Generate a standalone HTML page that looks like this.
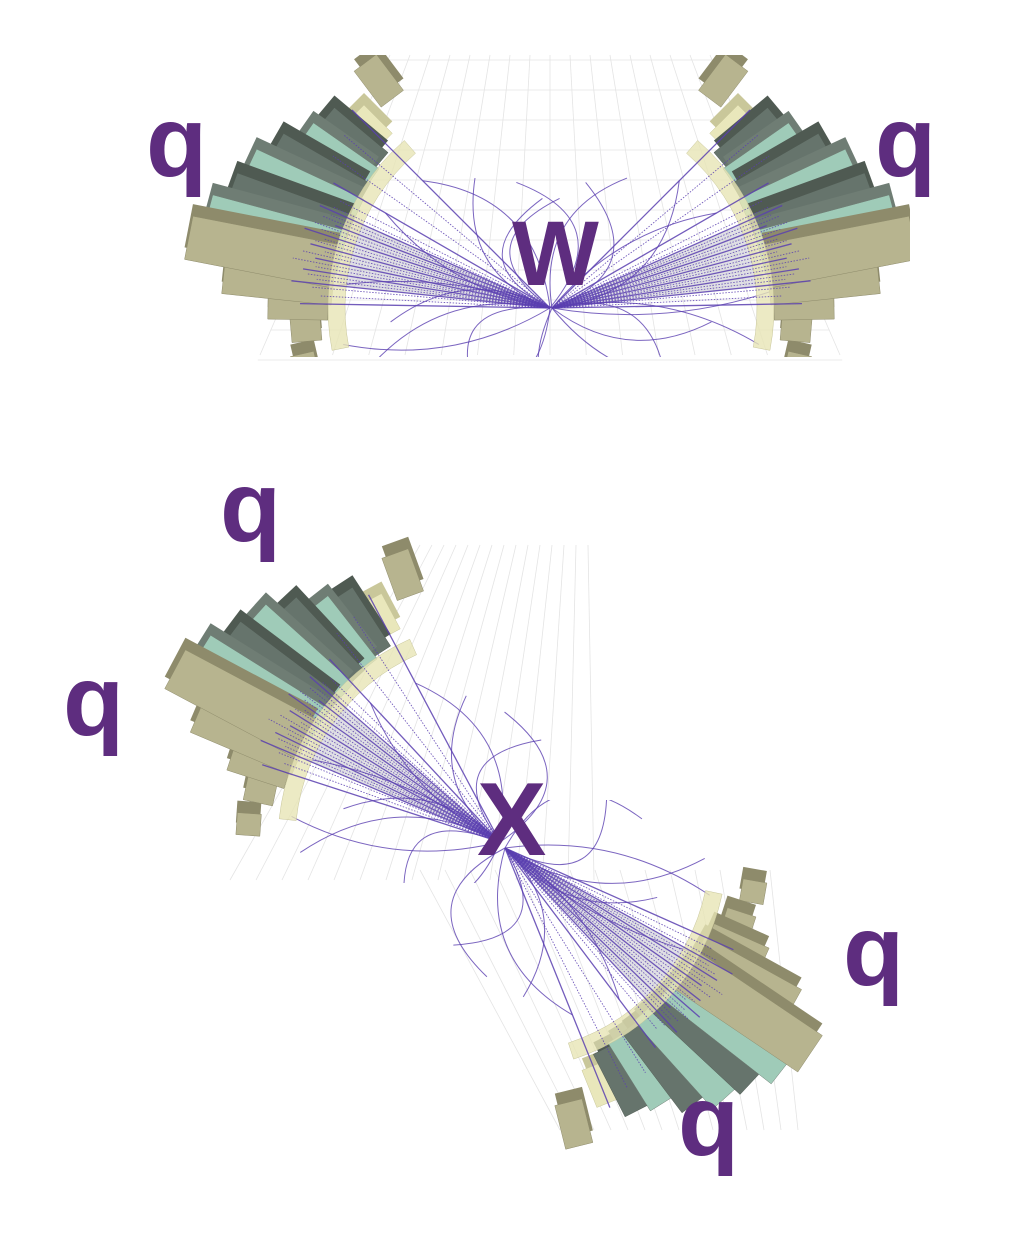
<!DOCTYPE html>
<html><head><meta charset="utf-8">
<style>
html,body{margin:0;padding:0;background:#fff;}
svg{display:block;}
.lbl{font-family:"Liberation Sans",sans-serif;font-weight:bold;fill:#5e2d7f;}
</style></head>
<body>
<svg id="s" width="1020" height="1234" viewBox="0 0 1020 1234">
<defs>
<clipPath id="clipTop"><rect x="150" y="55" width="760" height="302"/></clipPath>
<clipPath id="clipUL"><rect x="100" y="520" width="560" height="363"/></clipPath>
<clipPath id="clipLR"><rect x="340" y="800" width="520" height="360"/></clipPath>
</defs>
<g id="grid"></g>
<g id="jets"></g>
<text class="lbl" x="146" y="176" font-size="100">q</text>
<text class="lbl" x="875" y="176" font-size="100">q</text>
<text class="lbl" x="512" y="285" font-size="92">W</text>
<text class="lbl" x="220" y="541" font-size="100">q</text>
<text class="lbl" x="63" y="735" font-size="100">q</text>
<text class="lbl" x="477" y="855" font-size="104">X</text>
<text class="lbl" x="843" y="985" font-size="100">q</text>
<text class="lbl" x="678" y="1155" font-size="100">q</text>
</svg>
<script>
// tower offsets (deg), inner radius, length, half width, color index
const towerOff = [0,5,-4,-9,10,15,20,25,-14,-20,38,-28,30];
const towerR0  = [215,215,218,218,215,218,220,224,222,230,262,240,235];
const towerLen = [140,125,150,110,118,100,80,70,60,30,45,24,40];
const towerW   = [22,20,22,20,20,18,16,15,16,12,14,11,12];
const towerCol = [0,1,2,2,0,1,0,1,2,2,2,2,3];
const trackOff = [-14,-12,-10,-9,-8,-7,-6,-5,-4,-3,-2,-1,0,1,2,3,4,5,6,7,8,9,10,12,15,20,25,30];
const trackLen = [250,230,240,260,235,245,250,238,262,240,255,232,248,244,236,258,242,250,230,246,238,252,240,236,250,265,270,280];
const curveOff = [-35,-25,-20,-50,30,45,60,-70,80,-10,15];
const curveBend= [60,-40,50,-80,70,-60,90,100,-90,30,-35];
const curveLen = [200,210,160,140,180,150,130,120,110,230,190];
const colors=['#9fcbb8','#66746c','#b7b48f','#e9e7bb'];
const dark=['#6f7d74','#4f5a52','#8e8b6b','#c9c79a'];
const NS='http://www.w3.org/2000/svg';
const jets=document.getElementById('jets');
const grid=document.getElementById('grid');
function el(t,a,p){const e=document.createElementNS(NS,t);for(const k in a)e.setAttribute(k,a[k]);(p||jets).appendChild(e);return e;}
function pt(cx,cy,a,r){const t=a*Math.PI/180;return [cx+r*Math.cos(t),cy+r*Math.sin(t)];}
function drawJet(cx,cy,axis,sgn,clip,name){
  const g=el('g',{'clip-path':'url(#'+clip+')'});
  
  
  const c1=pt(cx,cy,axis-9,215),c2=pt(cx,cy,axis+9,215);
  const cone=el('polygon',{points:`${cx},${cy} ${c1} ${c2}`,fill:'#b9b9c4','fill-opacity':0.45},g);
  
  
  curveOff.forEach((o,i)=>{
    const a=axis+sgn*o,e=pt(cx,cy,a,curveLen[i]);
    const m=pt(cx,cy,a,curveLen[i]/2);const t=(a+90)*Math.PI/180;
    const qx=m[0]+curveBend[i]*Math.cos(t),qy=m[1]+curveBend[i]*Math.sin(t);
    const p=el('path',{d:`M${cx},${cy} Q${qx},${qy} ${e[0]},${e[1]}`,fill:'none',stroke:'#5a3fb0','stroke-width':1,'stroke-opacity':0.8},g);
    
    
  });
  // towers (short first)
  const idx=towerOff.map((_,i)=>i).sort((a,b)=>towerLen[a]-towerLen[b]);
  idx.forEach(i=>{
    const a=axis+sgn*towerOff[i],r0=towerR0[i],r1=r0+towerLen[i],w=towerW[i];
    const t=(a+90)*Math.PI/180,dx=w*Math.cos(t),dy=w*Math.sin(t);
    const p0=pt(cx,cy,a,r0),p1=pt(cx,cy,a,r1);
    const pts=[[p0[0]-dx,p0[1]-dy],[p1[0]-dx,p1[1]-dy],[p1[0]+dx,p1[1]+dy],[p0[0]+dx,p0[1]+dy]];
    const side=el('polygon',{points:pts.map(p=>(p[0])+','+(p[1]-12)).join(' '),fill:dark[towerCol[i]]},g);
    
    
    const f=el('polygon',{points:pts.map(p=>p.join(',')).join(' '),fill:colors[towerCol[i]],stroke:dark[towerCol[i]],'stroke-width':0.5},g);
    
    
  });
  const arcPts=[];for(let o=-26;o<=34;o+=4){arcPts.push(pt(cx,cy,axis+sgn*o,205));}
  for(let o=34;o>=-26;o-=4){arcPts.push(pt(cx,cy,axis+sgn*o,222));}
  const ring=el('polygon',{points:arcPts.map(p=>p.join(',')).join(' '),fill:'#e7e5b5','fill-opacity':0.8,stroke:'#c8c69a','stroke-width':0.5},g);
  
  
  trackOff.forEach((o,i)=>{
    const e=pt(cx,cy,axis+sgn*o,trackLen[i]);
    const l=el('line',{x1:cx,y1:cy,x2:e[0],y2:e[1],stroke:'#5a3fb0','stroke-width':i%3==0?1.3:0.9,'stroke-dasharray':i%3==0?'none':'1.5 1.5','stroke-opacity':0.85},g);
    
    
  });
}
function gl(x1,y1,x2,y2){const l=el('line',{x1,y1,x2,y2,stroke:'#e4e4e4','stroke-width':0.8},grid);
  
  }
for(let i=0;i<=16;i++){gl(390+i*20,55,260+i*36.25,355);}
for(let j=0;j<=10;j++){const y=60+j*30;const f=(y-55)/300;gl(390-130*f,y,710+130*f,y);}
for(let i=0;i<=14;i++){gl(420+i*12,545,230+i*26,880);}
for(let i=0;i<=14;i++){gl(420+i*25,870,560+i*17,1130);}
drawJet(550,308,195,1,'clipTop','jet-top-left');
drawJet(552,308,-15,-1,'clipTop','jet-top-right');
drawJet(500,842,212,1,'clipUL','jet-bottom-upper-left');
drawJet(505,848,38,1,'clipLR','jet-bottom-lower-right');
</script>
</body></html>
